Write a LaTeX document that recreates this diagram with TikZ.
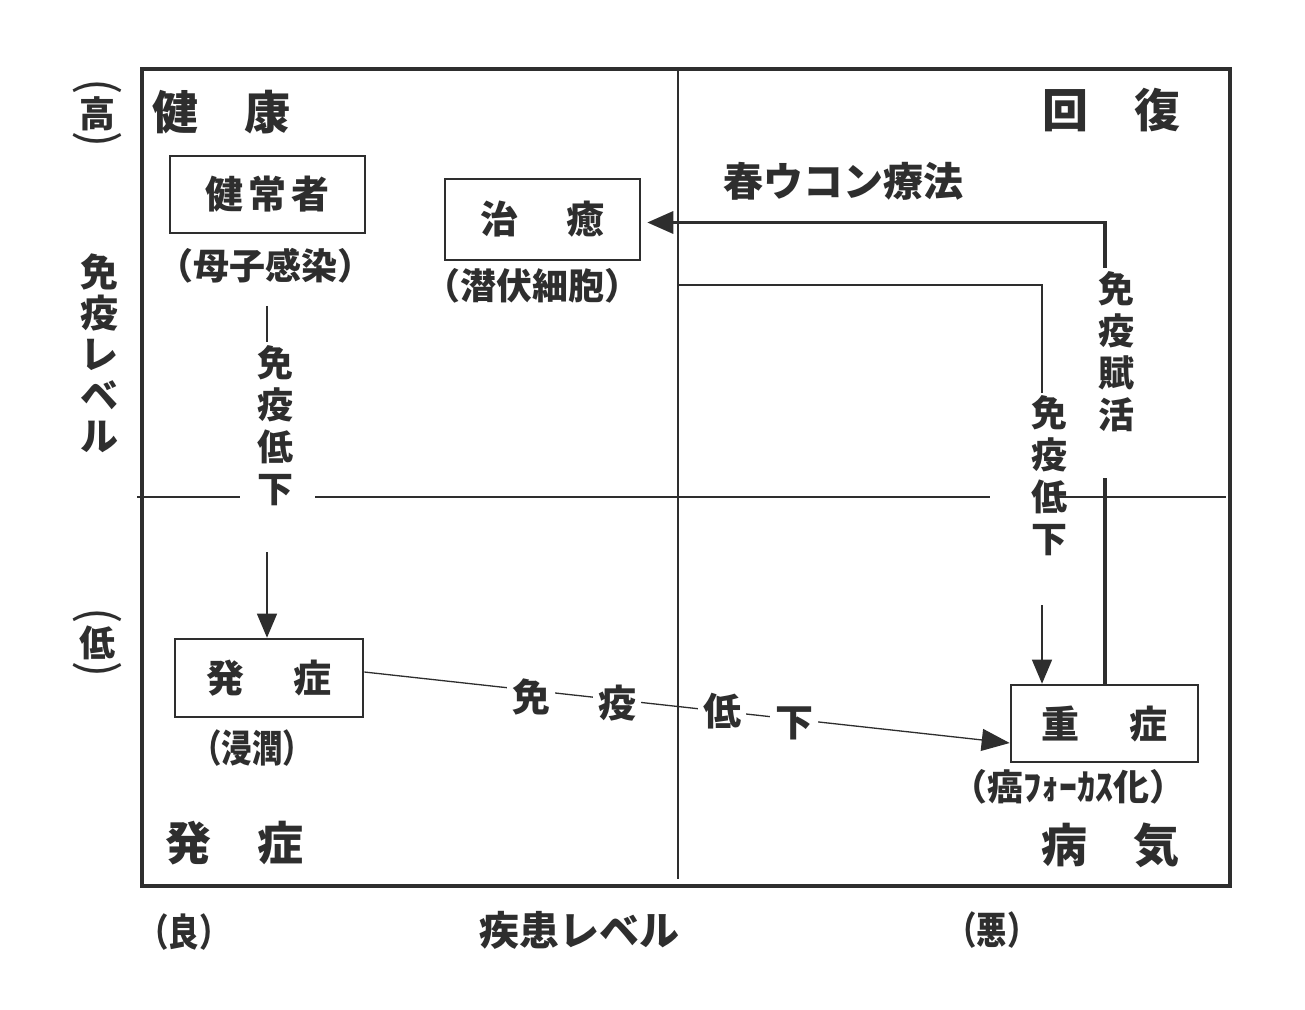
\documentclass[tikz,border=0pt]{standalone}
\usepackage{fontspec}
\setmainfont{Noto Sans CJK JP}
\newfontfamily\narrowjp{Noto Sans CJK JP}[FakeStretch=0.8]
\usetikzlibrary{arrows.meta}
\colorlet{ink}{black!82}
\begin{document}
\begin{tikzpicture}[x=0.5pt,y=-0.5pt,
  every node/.style={text=ink, inner sep=0pt},
  frame/.style={draw=ink, line width=1.6pt},
  divider/.style={draw=ink, line width=1.1pt},
  thinline/.style={draw=ink, line width=0.65pt},
  thickline/.style={draw=ink, line width=1.7pt},
  tip/.style={-{Triangle[length=12pt,width=10pt]}},
  bigtip/.style={-{Triangle[length=13pt,width=11pt]}},
  box/.style={draw=ink, line width=1.3pt, fill=white, font=\bfseries\fontsize{19}{19}\selectfont},
  lbl/.style={font=\bfseries\fontsize{18}{18}\selectfont},
  nlbl/.style={font=\bfseries\narrowjp\fontsize{19}{19}\selectfont},
  corner/.style={font=\bfseries\fontsize{23}{23}\selectfont},
  vtext/.style={align=center, font=\bfseries\fontsize{18}{21}\selectfont},
  vparen/.style={rotate=-90, font=\fontsize{24}{24}\selectfont},
  online/.style={fill=white, inner xsep=2.5pt, inner ysep=1pt, font=\bfseries\fontsize{19}{19}\selectfont},
  plain/.style={font=\bfseries\fontsize{20}{20}\selectfont}]
\useasboundingbox[fill=white] (0,0) rectangle (1305,1010);

% frame and dividers
\draw[frame] (142,69) rectangle (1230,886);
\coordinate (vtop) at (678,69);
\coordinate (vbot) at (678,879);
\draw[divider] (vtop) -- (vbot);
\coordinate (h1) at (137,497);
\coordinate (h2) at (240,497);
\coordinate (h3) at (315,497);
\coordinate (h4) at (990,497);
\coordinate (h5) at (1058,497);
\coordinate (h6) at (1226,497);
\draw[divider] (h1) -- (h2) (h3) -- (h4) (h5) -- (h6);

% corner labels
\node[corner] (kenko) at (221,112) {健　康};
\node[corner] (kaifuku) at (1111,110) {回　復};
\node[corner] (hatsusho) at (234,843) {発　症};
\node[corner] (byoki) at (1110,845) {病　気};

% boxes
\node[box, minimum width=97.5pt, minimum height=38.5pt] (kenjo) at (267.5,194.5) {健\kern2.5pt 常\kern2.5pt 者};
\node[box, minimum width=97.5pt, minimum height=40.5pt] (chiyu) at (542.5,219.5) {治\hspace{1.25em}癒};
\node[box, minimum width=94pt, minimum height=39pt] (hatsu) at (269,678) {発\hspace{1.3em}症};
\node[box, minimum width=93.5pt, minimum height=38.5pt] (juu) at (1104.5,723.5) {重\hspace{1.3em}症};

% sub labels
\node[lbl] (boshi) at (265,266) {（母子感染）};
\node[lbl] (senpuku) at (532,286) {（潜伏細胞）};
\node[nlbl] (shinjun) at (252,748) {（浸潤）};
\node[lbl] (gan) at (1068,787) {（癌ﾌｫｰｶｽ化）};
\node[plain] (haru) at (843,181) {春ウコン療法};

% left vertical connector
\coordinate (l1) at (267,306);
\coordinate (l2) at (267,342);
\coordinate (l3) at (267,552);
\draw[thinline] (l1) -- (l2);
\draw[thinline, tip] (l3) -- (l3 |- hatsu.north);
\node[vtext] (lowL) at (275,426) {免\\疫\\低\\下};

% right thin connector
\coordinate (r0) at (678,285);
\coordinate (r1) at (1042,285);
\coordinate (r2) at (1042,393);
\coordinate (r3) at (1042,605);
\draw[thinline] (r0) -- (r1) -- (r2);
\draw[thinline, tip] (r3) -- (r3 |- juu.north);
\node[vtext] (lowR) at (1049,476) {免\\疫\\低\\下};

% thick recovery connector
\coordinate (t1) at (1105,478);
\coordinate (t2) at (1105,268);
\draw[thickline] (t1 |- juu.north) -- (t1);
\draw[thickline, bigtip] (t2) |- ([xshift=3pt,yshift=-1.5pt]chiyu.east);
\node[vtext] (fukatsu) at (1116,352) {免\\疫\\賦\\活};

% diagonal connector
\draw[thinline, -{Triangle[length=14pt,width=11pt]}] ([yshift=3pt]hatsu.east) -- ([yshift=-9.75pt]juu.west);
\node[online] (d1) at (531,697) {免};
\node[online] (d2) at (617,703) {疫};
\node[online] (d3) at (722,711) {低};
\node[online] (d4) at (794,723) {下};

% axes
\node[vparen] (pa1) at (97,87) {(};
\node[lbl] (taka) at (97,114) {高};
\node[vparen] (pa2) at (97,140) {)};
\node[align=center, font=\bfseries\fontsize{19}{20.5}\selectfont] (meneki) at (99,353) {免\\疫\\レ\\ベ\\ル};
\node[vparen] (pb1) at (97,616) {(};
\node[lbl] (hiku) at (97,643) {低};
\node[vparen] (pb2) at (97,670) {)};

\node[nlbl] (ryo) at (184,932) {（良）};
\node[plain] (shikkan) at (579,930) {疾患レベル};
\node[nlbl] (aku) at (992,930) {（悪）};
\end{tikzpicture}
\end{document}
